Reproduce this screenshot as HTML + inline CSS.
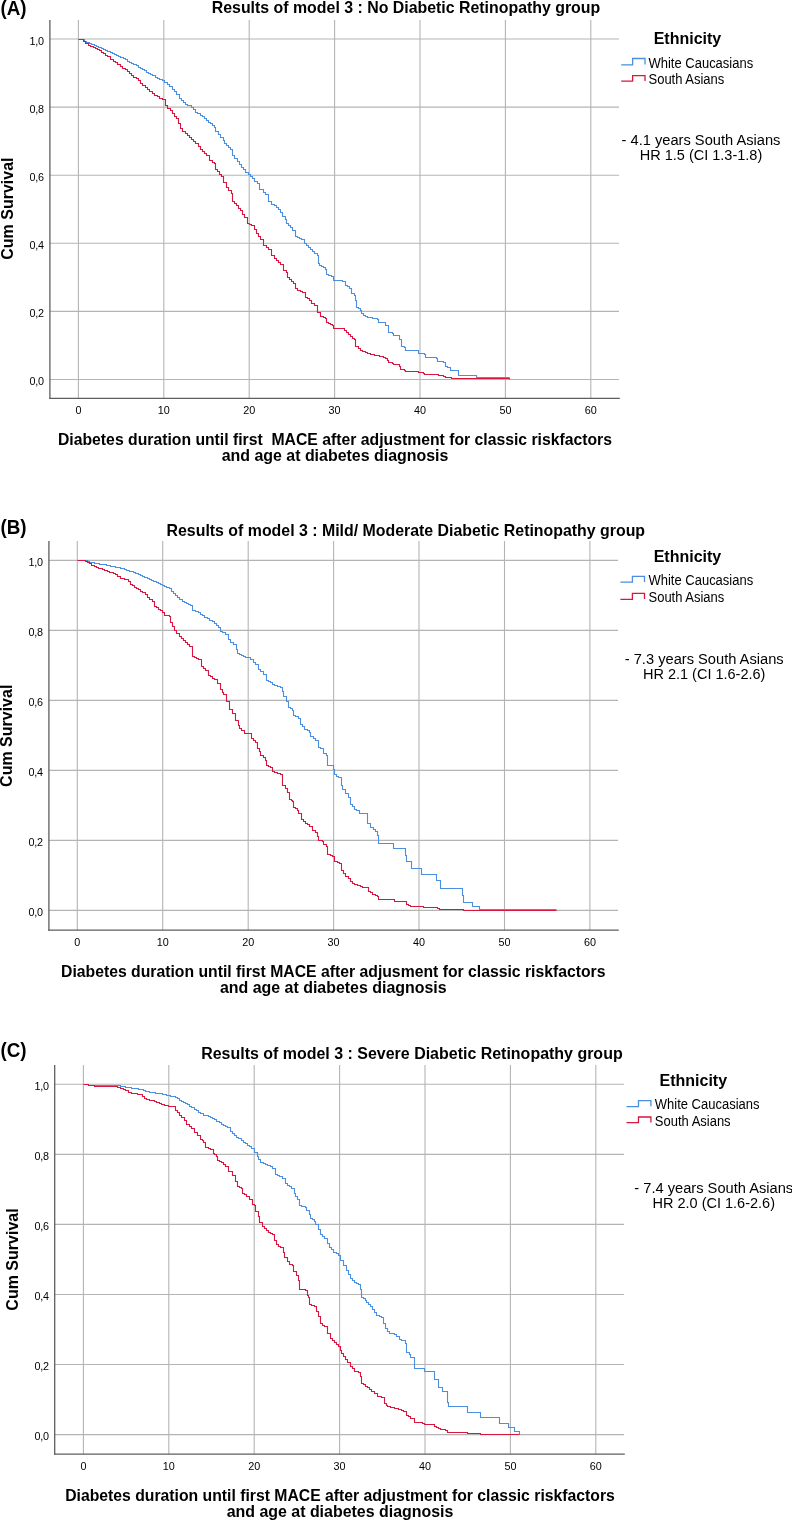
<!DOCTYPE html>
<html><head><meta charset="utf-8"><title>Kaplan-Meier curves</title>
<style>
html,body{margin:0;padding:0;background:#fff;}
body{width:792px;height:1520px;overflow:hidden;}
svg{display:block;will-change:transform;}
svg text{font-family:'Liberation Sans', sans-serif;fill:#000;}
</style></head>
<body>
<svg width="792" height="1520" viewBox="0 0 792 1520">
<rect width="792" height="1520" fill="#fff"/>
<line x1="49.9" y1="379.5" x2="619" y2="379.5" stroke="#b4b4b4" stroke-width="1.1"/>
<line x1="49.9" y1="311.4" x2="619" y2="311.4" stroke="#b4b4b4" stroke-width="1.1"/>
<line x1="49.9" y1="243.3" x2="619" y2="243.3" stroke="#b4b4b4" stroke-width="1.1"/>
<line x1="49.9" y1="175.2" x2="619" y2="175.2" stroke="#b4b4b4" stroke-width="1.1"/>
<line x1="49.9" y1="107.1" x2="619" y2="107.1" stroke="#b4b4b4" stroke-width="1.1"/>
<line x1="49.9" y1="39.0" x2="619" y2="39.0" stroke="#b4b4b4" stroke-width="1.1"/>
<line x1="78.4" y1="20" x2="78.4" y2="398.3" stroke="#b4b4b4" stroke-width="1.1"/>
<line x1="163.8" y1="20" x2="163.8" y2="398.3" stroke="#b4b4b4" stroke-width="1.1"/>
<line x1="249.2" y1="20" x2="249.2" y2="398.3" stroke="#b4b4b4" stroke-width="1.1"/>
<line x1="334.6" y1="20" x2="334.6" y2="398.3" stroke="#b4b4b4" stroke-width="1.1"/>
<line x1="420.0" y1="20" x2="420.0" y2="398.3" stroke="#b4b4b4" stroke-width="1.1"/>
<line x1="505.4" y1="20" x2="505.4" y2="398.3" stroke="#b4b4b4" stroke-width="1.1"/>
<line x1="590.8" y1="20" x2="590.8" y2="398.3" stroke="#b4b4b4" stroke-width="1.1"/>
<line x1="49.9" y1="20" x2="49.9" y2="398.95" stroke="#5e5e5e" stroke-width="1.3"/>
<line x1="49.25" y1="398.3" x2="619.8" y2="398.3" stroke="#5e5e5e" stroke-width="1.3"/>
<text x="43.9" y="385.0" text-anchor="end" font-size="10.8" letter-spacing="-0.2">0,0</text>
<text x="43.9" y="316.9" text-anchor="end" font-size="10.8" letter-spacing="-0.2">0,2</text>
<text x="43.9" y="248.8" text-anchor="end" font-size="10.8" letter-spacing="-0.2">0,4</text>
<text x="43.9" y="180.7" text-anchor="end" font-size="10.8" letter-spacing="-0.2">0,6</text>
<text x="43.9" y="112.6" text-anchor="end" font-size="10.8" letter-spacing="-0.2">0,8</text>
<text x="43.9" y="44.5" text-anchor="end" font-size="10.8" letter-spacing="-0.2">1,0</text>
<text x="78.4" y="413.8" text-anchor="middle" font-size="10.8">0</text>
<text x="163.8" y="413.8" text-anchor="middle" font-size="10.8">10</text>
<text x="249.2" y="413.8" text-anchor="middle" font-size="10.8">20</text>
<text x="334.6" y="413.8" text-anchor="middle" font-size="10.8">30</text>
<text x="420.0" y="413.8" text-anchor="middle" font-size="10.8">40</text>
<text x="505.4" y="413.8" text-anchor="middle" font-size="10.8">50</text>
<text x="590.8" y="413.8" text-anchor="middle" font-size="10.8">60</text>
<path d="M78.5 39.5H82.5H84.5V41.5H86.5V42.5H89.5V43.5H91.5V44.5H94.5V45.5H96.5V46.5H98.5V47.5H101.5V48.5H103.5V49.5H105.5V50.5H107.5V51.5H110.5V52.5H112.5V53.5H114.5V54.5H116.5V55.5H118.5V56.5H120.5V57.5H123.5V58.5H125.5V59.5H127.5V61.5H129.5V62.5H131.5V63.5H133.5V64.5H136.5V65.5H138.5V67.5H140.5V68.5H142.5V69.5H144.5V70.5H146.5V72.5H148.5V73.5H150.5V74.5H152.5V75.5H155.5V77.5H157.5V78.5H159.5V79.5H162.5V80.5H164.5V82.5H167.5V84.5H169.5V86.5H172.5V89.5H174.5V91.5H176.5V94.5H179.5V98.5H181.5V100.5H183.5V102.5H185.5V104.5H187.5V105.5H188.5H191.5V107.5H193.5V109.5H195.5V112.5H197.5V113.5H200.5V115.5H202.5V116.5H204.5V118.5H206.5V120.5H208.5V122.5H210.5V123.5H212.5V125.5H214.5V127.5H215.5V131.5H218.5V134.5H220.5V137.5H223.5V140.5H224.5V143.5H226.5V145.5H228.5V147.5H230.5V149.5H232.5V155.5H234.5V158.5H237.5V161.5H239.5V164.5H241.5V167.5H243.5V169.5H245.5V172.5H248.5V174.5H250.5V176.5H252.5V178.5H254.5V181.5H257.5V183.5H259.5V189.5H261.5H263.5V192.5H265.5V194.5H268.5V201.5H271.5V204.5H274.5V205.5H276.5V207.5H278.5V209.5H280.5V212.5H282.5V216.5H285.5V219.5H286.5V223.5H288.5V225.5H290.5V227.5H292.5V230.5H295.5V236.5H297.5V237.5H299.5V238.5H301.5V239.5H304.5V243.5H306.5V245.5H308.5V247.5H310.5V249.5H312.5V251.5H314.5V253.5H317.5V255.5H318.5V263.5H319.5V265.5H321.5V266.5H323.5V267.5H325.5V269.5H326.5V274.5H328.5V275.5H331.5V276.5H333.5V280.5H342.5V281.5H345.5V285.5H347.5V286.5H349.5V288.5H351.5V293.5H354.5V295.5H355.5V300.5H356.5V307.5H358.5V308.5H360.5V310.5H361.5V313.5H363.5V315.5H365.5V316.5H367.5V317.5H370.5H372.5V318.5H374.5H377.5V319.5H378.5V322.5H383.5H385.5V325.5H388.5V328.5V332.5H390.5H392.5V333.5H393.5V335.5H398.5H399.5V339.5H401.5V346.5H402.5H404.5V347.5H405.5V350.5H417.5H418.5V353.5H421.5H424.5V354.5H425.5V357.5H436.5V358.5H437.5V361.5H439.5H441.5H443.5V362.5H445.5V366.5H447.5V367.5H449.5H450.5V370.5H458.5V371.5V375.5H475.5H476.5V377.5H509.5" fill="none" stroke="#4a8fe0" stroke-width="1.1"/>
<path d="M78.5 39.5H82.5H83.5V41.5H85.5V43.5H88.5V45.5H90.5V46.5H93.5V47.5H95.5V48.5H97.5V49.5H99.5V50.5H101.5V52.5H103.5V53.5H105.5V55.5H107.5V56.5H110.5V59.5H113.5V61.5H115.5V62.5H117.5V64.5H120.5V66.5H122.5V68.5H125.5V69.5H127.5V71.5H129.5V73.5H131.5V75.5H133.5V77.5H136.5V78.5H138.5V80.5H140.5V83.5H142.5V85.5H145.5V87.5H147.5V89.5H149.5V91.5H152.5V93.5H154.5V95.5H157.5V96.5H159.5V98.5H162.5V99.5H165.5V105.5H167.5V108.5H170.5V110.5H172.5V113.5H174.5V116.5H176.5V118.5H178.5V123.5H180.5V128.5H182.5V131.5H185.5V133.5H187.5V135.5H189.5V137.5H191.5V139.5H193.5V141.5H195.5V143.5H198.5V146.5H200.5V149.5H202.5V151.5H204.5V153.5H206.5V155.5H209.5V160.5H212.5V162.5H214.5V163.5H215.5V169.5H217.5V171.5H219.5V174.5H221.5V176.5H223.5V182.5H226.5V187.5H228.5V190.5H231.5V193.5H232.5V201.5H234.5V203.5H236.5V205.5H238.5V208.5H240.5V210.5H242.5V214.5H244.5V217.5H247.5V223.5H249.5V224.5H251.5V225.5H254.5V229.5H256.5V233.5H258.5V236.5H260.5V239.5H263.5V245.5H266.5V247.5H268.5V249.5H271.5V255.5H274.5V258.5H276.5V260.5H278.5V262.5H280.5V264.5H283.5V270.5H286.5V272.5H287.5V277.5H289.5V279.5H291.5V281.5H293.5V283.5H295.5V288.5H297.5V290.5H300.5V291.5H302.5V292.5H305.5V297.5H307.5V298.5H309.5V300.5H311.5V303.5H314.5V305.5H317.5V307.5V312.5H320.5V316.5H323.5V317.5H325.5V318.5H326.5V322.5H328.5V323.5H330.5V324.5H332.5V325.5H333.5V328.5H342.5H344.5V330.5H346.5V332.5H348.5V334.5H350.5V336.5H352.5V338.5H354.5V339.5H355.5V346.5H358.5V348.5H360.5V350.5H362.5V351.5H365.5V352.5H367.5V353.5H370.5V354.5H372.5H374.5V355.5H377.5H379.5V356.5H381.5H383.5V357.5H385.5V358.5H387.5V360.5H388.5V362.5H390.5H392.5V363.5H393.5V364.5H397.5H399.5V366.5H400.5V369.5H402.5H404.5V370.5H405.5V371.5H418.5V372.5H423.5V373.5H424.5V374.5H436.5H438.5V375.5H443.5V376.5H445.5V377.5H450.5H451.5V378.5H509.5V379.5" fill="none" stroke="#d81640" stroke-width="1.1"/>
<line x1="48.9" y1="910.4" x2="618" y2="910.4" stroke="#b4b4b4" stroke-width="1.1"/>
<line x1="48.9" y1="840.4" x2="618" y2="840.4" stroke="#b4b4b4" stroke-width="1.1"/>
<line x1="48.9" y1="770.4" x2="618" y2="770.4" stroke="#b4b4b4" stroke-width="1.1"/>
<line x1="48.9" y1="700.4" x2="618" y2="700.4" stroke="#b4b4b4" stroke-width="1.1"/>
<line x1="48.9" y1="630.4" x2="618" y2="630.4" stroke="#b4b4b4" stroke-width="1.1"/>
<line x1="48.9" y1="560.4" x2="618" y2="560.4" stroke="#b4b4b4" stroke-width="1.1"/>
<line x1="77.3" y1="541" x2="77.3" y2="930.2" stroke="#b4b4b4" stroke-width="1.1"/>
<line x1="162.7" y1="541" x2="162.7" y2="930.2" stroke="#b4b4b4" stroke-width="1.1"/>
<line x1="248.2" y1="541" x2="248.2" y2="930.2" stroke="#b4b4b4" stroke-width="1.1"/>
<line x1="333.6" y1="541" x2="333.6" y2="930.2" stroke="#b4b4b4" stroke-width="1.1"/>
<line x1="419.0" y1="541" x2="419.0" y2="930.2" stroke="#b4b4b4" stroke-width="1.1"/>
<line x1="504.5" y1="541" x2="504.5" y2="930.2" stroke="#b4b4b4" stroke-width="1.1"/>
<line x1="589.9" y1="541" x2="589.9" y2="930.2" stroke="#b4b4b4" stroke-width="1.1"/>
<line x1="48.9" y1="541" x2="48.9" y2="930.85" stroke="#5e5e5e" stroke-width="1.3"/>
<line x1="48.25" y1="930.2" x2="618.8" y2="930.2" stroke="#5e5e5e" stroke-width="1.3"/>
<text x="42.9" y="915.9" text-anchor="end" font-size="10.8" letter-spacing="-0.2">0,0</text>
<text x="42.9" y="845.9" text-anchor="end" font-size="10.8" letter-spacing="-0.2">0,2</text>
<text x="42.9" y="775.9" text-anchor="end" font-size="10.8" letter-spacing="-0.2">0,4</text>
<text x="42.9" y="705.9" text-anchor="end" font-size="10.8" letter-spacing="-0.2">0,6</text>
<text x="42.9" y="635.9" text-anchor="end" font-size="10.8" letter-spacing="-0.2">0,8</text>
<text x="42.9" y="565.9" text-anchor="end" font-size="10.8" letter-spacing="-0.2">1,0</text>
<text x="77.3" y="945.6" text-anchor="middle" font-size="10.8">0</text>
<text x="162.7" y="945.6" text-anchor="middle" font-size="10.8">10</text>
<text x="248.2" y="945.6" text-anchor="middle" font-size="10.8">20</text>
<text x="333.6" y="945.6" text-anchor="middle" font-size="10.8">30</text>
<text x="419.0" y="945.6" text-anchor="middle" font-size="10.8">40</text>
<text x="504.5" y="945.6" text-anchor="middle" font-size="10.8">50</text>
<text x="589.9" y="945.6" text-anchor="middle" font-size="10.8">60</text>
<path d="M77.5 560.5H85.5H87.5V561.5H89.5V562.5H92.5H94.5V563.5H97.5H99.5V564.5H101.5H104.5H106.5V565.5H108.5H110.5V566.5H113.5H115.5V567.5H117.5H120.5V568.5H122.5H124.5V569.5H126.5V570.5H129.5V571.5H131.5H133.5V572.5H135.5V573.5H138.5V574.5H140.5V575.5H142.5V576.5H144.5V577.5H147.5V578.5H149.5V579.5H151.5V580.5H153.5V581.5H156.5V582.5H158.5V583.5H160.5V584.5H162.5V585.5H164.5V586.5H166.5V587.5H169.5V588.5H171.5V591.5H173.5V593.5H175.5V595.5H177.5V597.5H179.5V599.5H182.5V601.5H184.5V602.5H186.5V603.5H188.5V604.5H190.5V605.5H192.5V606.5V610.5H195.5V611.5H198.5V612.5H200.5V614.5H202.5V615.5H204.5V617.5H207.5V618.5H209.5V620.5H212.5V621.5H214.5V623.5H216.5V625.5H218.5V627.5H220.5V631.5H222.5V632.5H225.5V634.5H228.5V639.5H230.5V642.5H233.5V644.5H236.5V649.5H237.5V653.5H239.5V654.5H241.5V655.5H243.5V656.5H245.5V657.5H247.5H249.5H250.5V659.5H253.5V662.5H255.5V664.5H258.5V669.5H260.5V671.5H263.5V674.5H266.5V680.5H268.5V681.5H270.5V682.5H272.5V684.5H274.5V685.5H277.5V686.5H280.5V687.5H282.5V691.5H283.5V696.5H286.5V701.5H288.5V707.5H290.5V708.5H292.5V710.5H293.5V715.5H295.5V716.5H298.5V718.5H300.5V724.5H302.5V726.5H304.5V729.5H307.5V730.5H309.5V732.5H310.5V736.5H313.5V738.5H315.5V740.5H318.5V747.5H320.5V748.5H323.5V749.5V753.5H326.5V755.5H327.5V765.5H331.5H333.5V769.5H334.5V774.5H336.5V776.5H338.5V777.5H340.5H341.5V785.5H342.5V789.5H345.5V793.5H348.5V797.5H350.5V804.5H352.5V806.5H354.5V809.5H356.5V810.5H358.5H359.5V813.5H364.5H367.5V817.5V823.5H370.5V827.5H373.5V829.5H375.5V831.5H377.5V835.5H378.5V843.5H393.5V848.5H404.5H405.5V855.5H406.5V861.5H410.5H411.5V868.5H420.5H421.5V874.5H436.5V880.5H438.5H440.5V881.5V888.5H461.5H462.5V895.5H463.5V896.5V902.5H472.5V906.5H478.5H479.5V909.5H556.5" fill="none" stroke="#4a8fe0" stroke-width="1.1"/>
<path d="M77.5 560.5H85.5V561.5H87.5V562.5H89.5V563.5H91.5V565.5H94.5V566.5H96.5V567.5H98.5V568.5H100.5H102.5V569.5H104.5V570.5H107.5V571.5H109.5V572.5H111.5H113.5V573.5H115.5V574.5H117.5V576.5H120.5V578.5H122.5H124.5V579.5H126.5H128.5V581.5H130.5V584.5H132.5V585.5H134.5V587.5H136.5V588.5H138.5V589.5H140.5V591.5H142.5V592.5H145.5V594.5H147.5V597.5H149.5V599.5H152.5V601.5H154.5V606.5H156.5V607.5H158.5V609.5H160.5V610.5H162.5V612.5H164.5V615.5H166.5H169.5V616.5H170.5V622.5H172.5V626.5H174.5V630.5H176.5V633.5H179.5V636.5H181.5V638.5H183.5V640.5H185.5V642.5H187.5V644.5H189.5V646.5H192.5V648.5V656.5H194.5V657.5H196.5V658.5H198.5V659.5H201.5V666.5H203.5V668.5H205.5V670.5H208.5V675.5H210.5V676.5H212.5V678.5H214.5V679.5H217.5V683.5H220.5V689.5H222.5V692.5H223.5V694.5H226.5V701.5H229.5V704.5V709.5H232.5V713.5H235.5V715.5V720.5H238.5V725.5H239.5V728.5H241.5V730.5H244.5V733.5H250.5H251.5V738.5H253.5V740.5H255.5V742.5H257.5V748.5H259.5V751.5H260.5V755.5H263.5V757.5H265.5V760.5H266.5V765.5H268.5V766.5H270.5V767.5H272.5V771.5H274.5V772.5H277.5V773.5H280.5V774.5H282.5V785.5H285.5V788.5H287.5V792.5H289.5V799.5H291.5V800.5H292.5V801.5H293.5V807.5H295.5V808.5H297.5V810.5H298.5V813.5H301.5V819.5H303.5V821.5H305.5V823.5H307.5V824.5H309.5V826.5H312.5V830.5H315.5V832.5H317.5V836.5H318.5V840.5H322.5V841.5H323.5V844.5H326.5V846.5H327.5V854.5H328.5H330.5V855.5H332.5V856.5H334.5V861.5H337.5V862.5H339.5V863.5H341.5V870.5H343.5V873.5H345.5V876.5H348.5V878.5H350.5V881.5H352.5V883.5H354.5V884.5H357.5V885.5H360.5V886.5H362.5V887.5H365.5H368.5V891.5H370.5V892.5H372.5V894.5H375.5V895.5H377.5V896.5H378.5V899.5H393.5H394.5V901.5H403.5H406.5V904.5H408.5V905.5H410.5V906.5H412.5H414.5H416.5H418.5H421.5H423.5V907.5H425.5H427.5H429.5H431.5H433.5H436.5H437.5V908.5H439.5V909.5H461.5H463.5V910.5H556.5" fill="none" stroke="#d81640" stroke-width="1.1"/>
<line x1="54.7" y1="1434.6" x2="624" y2="1434.6" stroke="#b4b4b4" stroke-width="1.1"/>
<line x1="54.7" y1="1364.5" x2="624" y2="1364.5" stroke="#b4b4b4" stroke-width="1.1"/>
<line x1="54.7" y1="1294.5" x2="624" y2="1294.5" stroke="#b4b4b4" stroke-width="1.1"/>
<line x1="54.7" y1="1224.4" x2="624" y2="1224.4" stroke="#b4b4b4" stroke-width="1.1"/>
<line x1="54.7" y1="1154.4" x2="624" y2="1154.4" stroke="#b4b4b4" stroke-width="1.1"/>
<line x1="54.7" y1="1084.3" x2="624" y2="1084.3" stroke="#b4b4b4" stroke-width="1.1"/>
<line x1="83.4" y1="1065.0" x2="83.4" y2="1454.1" stroke="#b4b4b4" stroke-width="1.1"/>
<line x1="168.8" y1="1065.0" x2="168.8" y2="1454.1" stroke="#b4b4b4" stroke-width="1.1"/>
<line x1="254.2" y1="1065.0" x2="254.2" y2="1454.1" stroke="#b4b4b4" stroke-width="1.1"/>
<line x1="339.6" y1="1065.0" x2="339.6" y2="1454.1" stroke="#b4b4b4" stroke-width="1.1"/>
<line x1="425.0" y1="1065.0" x2="425.0" y2="1454.1" stroke="#b4b4b4" stroke-width="1.1"/>
<line x1="510.4" y1="1065.0" x2="510.4" y2="1454.1" stroke="#b4b4b4" stroke-width="1.1"/>
<line x1="595.8" y1="1065.0" x2="595.8" y2="1454.1" stroke="#b4b4b4" stroke-width="1.1"/>
<line x1="54.7" y1="1065.0" x2="54.7" y2="1454.75" stroke="#5e5e5e" stroke-width="1.3"/>
<line x1="54.050000000000004" y1="1454.1" x2="624.8" y2="1454.1" stroke="#5e5e5e" stroke-width="1.3"/>
<text x="48.9" y="1440.1" text-anchor="end" font-size="10.8" letter-spacing="-0.2">0,0</text>
<text x="48.9" y="1370.0" text-anchor="end" font-size="10.8" letter-spacing="-0.2">0,2</text>
<text x="48.9" y="1300.0" text-anchor="end" font-size="10.8" letter-spacing="-0.2">0,4</text>
<text x="48.9" y="1229.9" text-anchor="end" font-size="10.8" letter-spacing="-0.2">0,6</text>
<text x="48.9" y="1159.9" text-anchor="end" font-size="10.8" letter-spacing="-0.2">0,8</text>
<text x="48.9" y="1089.8" text-anchor="end" font-size="10.8" letter-spacing="-0.2">1,0</text>
<text x="83.4" y="1470" text-anchor="middle" font-size="10.8">0</text>
<text x="168.8" y="1470" text-anchor="middle" font-size="10.8">10</text>
<text x="254.2" y="1470" text-anchor="middle" font-size="10.8">20</text>
<text x="339.6" y="1470" text-anchor="middle" font-size="10.8">30</text>
<text x="425.0" y="1470" text-anchor="middle" font-size="10.8">40</text>
<text x="510.4" y="1470" text-anchor="middle" font-size="10.8">50</text>
<text x="595.8" y="1470" text-anchor="middle" font-size="10.8">60</text>
<path d="M83.5 1084.5H85.5H88.5V1085.5H90.5H97.5H118.5H120.5V1086.5H122.5H125.5V1087.5H127.5H129.5H131.5V1088.5H133.5H135.5H138.5V1089.5H140.5H143.5V1090.5H145.5V1091.5H147.5H149.5V1092.5H151.5H153.5H155.5V1093.5H157.5H159.5H162.5V1094.5H164.5H166.5V1095.5H168.5H170.5V1096.5H172.5H175.5V1097.5H177.5V1098.5H179.5V1100.5H181.5V1101.5H183.5V1102.5H185.5V1103.5H187.5V1104.5H189.5V1106.5H191.5V1107.5H194.5V1109.5H196.5V1110.5H198.5V1112.5H200.5V1113.5H203.5V1115.5H205.5H208.5V1116.5H210.5V1117.5H212.5V1118.5H214.5V1119.5H216.5V1121.5H219.5V1122.5H221.5V1124.5H223.5V1125.5H225.5V1126.5H227.5V1127.5H230.5V1131.5H232.5V1133.5H234.5V1135.5H236.5V1137.5H238.5V1138.5H241.5V1140.5H243.5V1142.5H245.5V1143.5H247.5V1145.5H249.5V1146.5H251.5V1148.5H254.5V1152.5H257.5V1156.5H258.5V1159.5H260.5V1162.5H263.5V1163.5H265.5V1164.5H267.5V1165.5H270.5V1166.5H272.5V1168.5H275.5V1174.5H277.5V1175.5H279.5V1176.5H282.5V1178.5H285.5V1183.5H287.5V1185.5H289.5V1186.5H291.5V1188.5H294.5V1193.5H295.5V1196.5H297.5V1199.5H299.5V1205.5H301.5V1206.5H303.5H305.5V1207.5H306.5V1210.5H309.5V1214.5H310.5V1218.5H312.5V1219.5H314.5V1221.5H315.5V1224.5H318.5V1229.5H320.5V1234.5H322.5V1236.5H324.5V1238.5H327.5V1243.5H329.5V1247.5H331.5V1249.5H333.5V1252.5H336.5V1253.5H338.5V1255.5H340.5V1260.5H343.5V1265.5H346.5V1270.5H348.5V1274.5H350.5V1278.5H352.5V1280.5H354.5V1282.5H356.5V1283.5H358.5V1284.5H360.5V1289.5H361.5V1297.5H363.5V1298.5H365.5V1300.5H366.5V1302.5H368.5V1304.5H370.5V1306.5H372.5V1309.5H374.5V1312.5H376.5V1315.5H379.5V1316.5H381.5V1317.5H383.5V1323.5H385.5V1328.5H387.5V1331.5H389.5V1333.5H394.5V1334.5H396.5V1336.5H399.5V1339.5H401.5V1340.5H403.5H405.5V1343.5H406.5V1352.5H409.5V1354.5H410.5V1357.5H414.5V1368.5H422.5H424.5V1371.5H433.5H434.5V1379.5H437.5H438.5V1387.5H441.5H442.5V1391.5H446.5H447.5V1402.5H448.5V1406.5H467.5V1407.5V1412.5H480.5V1417.5H499.5V1423.5H508.5V1427.5H514.5V1431.5H519.5V1434.5" fill="none" stroke="#4a8fe0" stroke-width="1.1"/>
<path d="M83.5 1084.5H85.5H88.5V1085.5H90.5H92.5H94.5V1086.5H96.5H98.5H100.5H117.5V1087.5H120.5V1088.5H123.5V1089.5H125.5V1090.5H128.5V1092.5H131.5V1093.5H133.5H135.5H137.5V1094.5H140.5H142.5V1096.5H144.5V1098.5H146.5V1099.5H149.5V1100.5H151.5H154.5V1101.5H156.5V1102.5H159.5V1103.5H161.5V1104.5H164.5V1105.5H166.5H168.5V1106.5H170.5H172.5H175.5V1110.5H177.5V1112.5H179.5V1115.5H181.5V1117.5H184.5V1120.5H186.5V1124.5H189.5V1126.5H191.5V1128.5H194.5V1132.5H197.5V1135.5H200.5V1139.5H202.5V1140.5H203.5V1142.5H205.5V1147.5H208.5V1148.5H210.5V1149.5H213.5V1153.5H214.5V1154.5H216.5V1156.5H217.5V1160.5H219.5V1161.5H221.5V1162.5H223.5V1164.5H225.5V1166.5H228.5V1171.5H232.5V1175.5H235.5V1181.5H237.5V1186.5H239.5V1187.5H241.5V1188.5H242.5V1193.5H244.5V1194.5H246.5V1196.5H249.5V1199.5H252.5V1204.5H254.5V1205.5H255.5V1211.5H258.5V1216.5H259.5V1222.5H262.5V1226.5H264.5V1228.5H266.5V1230.5H268.5V1232.5H270.5V1233.5H272.5V1234.5H274.5V1240.5H276.5V1244.5H278.5V1246.5H280.5V1247.5H283.5V1252.5H284.5V1257.5H287.5V1261.5H289.5V1264.5H292.5V1265.5H293.5V1271.5H296.5V1275.5H298.5V1280.5H299.5V1289.5H305.5V1290.5H307.5V1295.5H308.5V1297.5H309.5V1304.5H311.5V1305.5H314.5V1306.5H316.5V1311.5H318.5V1316.5H320.5V1323.5H322.5V1325.5H324.5V1326.5H327.5V1333.5H330.5V1338.5H332.5V1340.5H334.5V1342.5H336.5V1344.5H338.5V1346.5H340.5V1350.5H341.5V1353.5H343.5V1356.5H345.5V1359.5H347.5V1362.5H350.5V1366.5H352.5V1368.5H354.5V1371.5H356.5H358.5V1372.5H360.5V1376.5H361.5V1383.5H363.5V1384.5H365.5V1386.5H367.5V1387.5H369.5V1389.5H371.5V1391.5H374.5V1393.5H377.5V1396.5H381.5V1397.5H384.5V1403.5H386.5V1405.5H387.5V1406.5H390.5V1407.5H392.5H394.5V1408.5H396.5H398.5V1409.5H401.5V1410.5H403.5V1411.5H406.5V1415.5H408.5V1416.5H410.5V1418.5H414.5V1422.5H422.5V1423.5H424.5V1424.5H432.5H434.5V1426.5H436.5V1427.5H438.5V1428.5H440.5V1429.5H443.5H445.5V1430.5H447.5V1432.5H467.5V1433.5H480.5V1434.5H499.5H519.5" fill="none" stroke="#d81640" stroke-width="1.1"/>
<text transform="translate(0.5,14.6) scale(1,1.08)" font-weight="bold" font-size="18.8">(A)</text>
<text transform="translate(0.5,533.5) scale(1,1.08)" font-weight="bold" font-size="18.8">(B)</text>
<text transform="translate(0.5,1057.4) scale(1,1.08)" font-weight="bold" font-size="18.8">(C)</text>
<text x="406.0" y="12.8" text-anchor="middle" font-weight="bold" font-size="15.9">Results of model 3 : No Diabetic Retinopathy group</text>
<text x="405.8" y="535.7" text-anchor="middle" font-weight="bold" font-size="15.9">Results of model 3 : Mild/ Moderate Diabetic Retinopathy group</text>
<text x="411.9" y="1059.4" text-anchor="middle" font-weight="bold" font-size="15.98">Results of model 3 : Severe Diabetic Retinopathy group</text>
<text transform="translate(13.0,208.6) rotate(-90)" text-anchor="middle" font-weight="bold" font-size="16">Cum Survival</text>
<text transform="translate(12.2,735.8) rotate(-90)" text-anchor="middle" font-weight="bold" font-size="16">Cum Survival</text>
<text transform="translate(17.9,1259.5) rotate(-90)" text-anchor="middle" font-weight="bold" font-size="16">Cum Survival</text>
<text x="335" y="444.6" text-anchor="middle" font-weight="bold" font-size="15.75" xml:space="preserve">Diabetes duration until first  MACE after adjustment for classic riskfactors</text>
<text x="335" y="460.6" text-anchor="middle" font-weight="bold" font-size="15.95">and age at diabetes diagnosis</text>
<text x="333.3" y="976.5" text-anchor="middle" font-weight="bold" font-size="15.75" xml:space="preserve">Diabetes duration until first MACE after adjusment for classic riskfactors</text>
<text x="333.3" y="992.5" text-anchor="middle" font-weight="bold" font-size="15.95">and age at diabetes diagnosis</text>
<text x="340" y="1500.7" text-anchor="middle" font-weight="bold" font-size="15.75" xml:space="preserve">Diabetes duration until first MACE after adjustment for classic riskfactors</text>
<text x="340" y="1516.6" text-anchor="middle" font-weight="bold" font-size="15.95">and age at diabetes diagnosis</text>
<text x="653.6999999999999" y="43.75" font-weight="bold" font-size="16">Ethnicity</text>
<path d="M621.2 64.8H632.6V58.5H645V64.5" fill="none" stroke="#4a8fe0" stroke-width="1.3"/>
<path d="M621.2 81.2H632.6V75.7H645V80.9" fill="none" stroke="#d81640" stroke-width="1.3"/>
<text transform="translate(648.5,67.6) scale(1,1.08)" font-size="13">White Caucasians</text>
<text transform="translate(648.5,84.3) scale(1,1.08)" font-size="13">South Asians</text>
<text x="653.6999999999999" y="561.8" font-weight="bold" font-size="16">Ethnicity</text>
<path d="M620.4 582.2H632.4V576.3H644.5V581.9000000000001" fill="none" stroke="#4a8fe0" stroke-width="1.3"/>
<path d="M620.4 599.3H632.4V593.4H644.5V599.0" fill="none" stroke="#d81640" stroke-width="1.3"/>
<text transform="translate(648.5,585.4) scale(1,1.08)" font-size="13">White Caucasians</text>
<text transform="translate(648.5,601.5) scale(1,1.08)" font-size="13">South Asians</text>
<text x="659.5" y="1085.7" font-weight="bold" font-size="16">Ethnicity</text>
<path d="M626.5 1106.6H638.5V1100.7H650.9V1106.3" fill="none" stroke="#4a8fe0" stroke-width="1.3"/>
<path d="M626.5 1122.7H638.5V1117H650.9V1122.4" fill="none" stroke="#d81640" stroke-width="1.3"/>
<text transform="translate(654.8,1109.4) scale(1,1.08)" font-size="13">White Caucasians</text>
<text transform="translate(654.8,1125.5) scale(1,1.08)" font-size="13">South Asians</text>
<text x="701" y="144.7" text-anchor="middle" font-size="14.66">- 4.1 years South Asians</text>
<text x="701" y="159.6" text-anchor="middle" font-size="14.5">HR 1.5 (CI 1.3-1.8)</text>
<text x="704.2" y="664.1" text-anchor="middle" font-size="14.66">- 7.3 years South Asians</text>
<text x="704.2" y="679.4" text-anchor="middle" font-size="14.5">HR 2.1 (CI 1.6-2.6)</text>
<text x="713.75" y="1192.8" text-anchor="middle" font-size="14.66">- 7.4 years South Asians</text>
<text x="713.75" y="1207.6" text-anchor="middle" font-size="14.5">HR 2.0 (CI 1.6-2.6)</text>
</svg>
</body></html>
